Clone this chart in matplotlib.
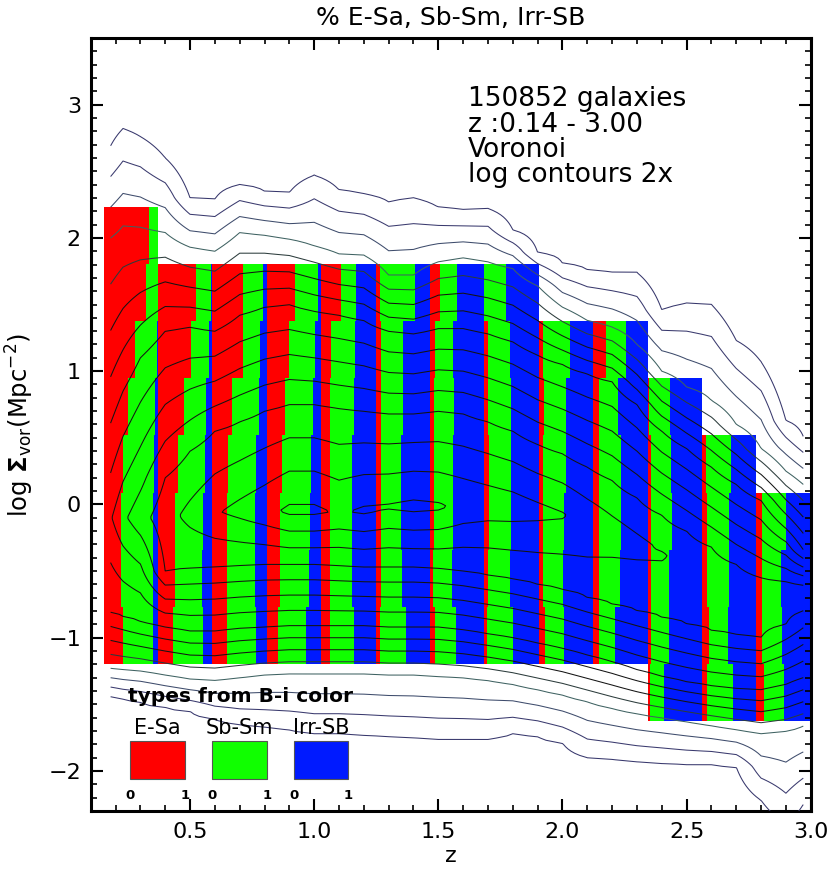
import matplotlib.pyplot as plt
import numpy as np

plt.rcParams['font.family'] = ['DejaVu Sans']
plt.rcParams['mathtext.fontset'] = 'dejavusans'

# column edges in z and row edges in log Sigma for the type-fraction blocks
z_edges = [0.152, 0.371, 0.590, 0.809, 1.028, 1.247, 1.466, 1.686, 1.905,
           2.124, 2.343, 2.562, 2.781, 3.0]
s_edges = [-1.625, -1.197, -0.768, -0.340, 0.089, 0.518, 0.946, 1.375, 1.803, 2.232]

# first / last filled row of each column
row_lo = [1, 1, 1, 1, 1, 1, 1, 1, 1, 1, 0, 0, 0]
row_hi = [8, 7, 7, 7, 7, 7, 7, 7, 6, 6, 5, 4, 3]

# fraction of E-Sa (red) and Sb-Sm (green) per row, bottom to top; Irr-SB is the rest
frac_esa = [
    [0.35, 0.32, 0.32, 0.35, 0.44, 0.57, 0.785, 0.83],
    [0.28, 0.31, 0.31, 0.36, 0.48, 0.61, 0.705],
    [0.26, 0.26, 0.26, 0.28, 0.36, 0.56, 0.56],
    [0.21, 0.25, 0.25, 0.28, 0.34, 0.41, 0.52],
    [0.16, 0.16, 0.16, 0.16, 0.17, 0.185, 0.37],
    [0.09, 0.10, 0.10, 0.10, 0.10, 0.10, 0.08],
    [0.09, 0.06, 0.07, 0.07, 0.07, 0.10, 0.18],
    [0.055, 0.07, 0.08, 0.08, 0.07, 0.06, 0.0],
    [0.11, 0.07, 0.07, 0.08, 0.09, 0.08],
    [0.10, 0.10, 0.10, 0.10, 0.10, 0.23],
    [0.04, 0.055, 0.055, 0.07, 0.07, 0.03],
    [0.085, 0.12, 0.10, 0.10, 0.07],
    [0.135, 0.10, 0.10, 0.10],
]
frac_sbsm = [
    [0.56, 0.59, 0.59, 0.57, 0.50, 0.41, 0.215, 0.17],
    [0.55, 0.50, 0.515, 0.50, 0.41, 0.32, 0.27],
    [0.54, 0.53, 0.53, 0.52, 0.49, 0.32, 0.37],
    [0.52, 0.53, 0.55, 0.53, 0.51, 0.48, 0.42],
    [0.44, 0.40, 0.40, 0.40, 0.43, 0.44, 0.28],
    [0.47, 0.38, 0.36, 0.36, 0.41, 0.41, 0.64],
    [0.39, 0.34, 0.35, 0.35, 0.37, 0.33, 0.31],
    [0.46, 0.39, 0.41, 0.41, 0.42, 0.41, 0.40],
    [0.35, 0.38, 0.39, 0.41, 0.40, 0.50],
    [0.30, 0.39, 0.41, 0.41, 0.36, 0.38],
    [0.26, 0.34, 0.34, 0.37, 0.36, 0.39],
    [0.48, 0.35, 0.40, 0.40, 0.46],
    [0.37, 0.37, 0.36, 0.45],
]

# galaxy density contours (log2 levels): crossing positions read per z
z_ctr = [0.18, 0.23, 0.3, 0.4, 0.5, 0.6, 0.7, 0.8, 0.9, 1.0, 1.1, 1.2, 1.3, 1.4, 1.5, 1.6,
         1.7, 1.8, 1.9, 2.0, 2.1, 2.2, 2.3, 2.4, 2.5, 2.6, 2.7, 2.8, 2.9, 2.97]
up1 = [2.69, 2.82, 2.76, 2.60, 2.30, 2.29, 2.40, 2.35, 2.34, 2.47, 2.36, 2.33, 2.27, 2.30, 2.23,
       2.21, 2.22, 2.06, 1.89, 1.81, 1.76, 1.74, 1.74, 1.46, 1.51, 1.50, 1.23, 1.07, 0.63, 0.51]
up4 = [2.00, 2.09, 2.08, 2.04, 1.93, 1.90, 2.04, 2.02, 1.99, 1.94, 1.88, 1.87, 1.72, 1.72, 1.82,
       1.85, 1.82, 1.77, 1.64, 1.48, 1.38, 1.33, 1.20, 1.00, 0.88, 0.78, 0.60, 0.42, 0.25, 0.15]
up8 = [0.61, 0.85, 1.10, 1.30, 1.33, 1.30, 1.42, 1.48, 1.50, 1.45, 1.42, 1.38, 1.30, 1.28, 1.32,
       1.32, 1.28, 1.22, 1.12, 1.05, 0.98, 0.92, 0.75, 0.55, 0.42, 0.28, 0.15, 0.03, -0.18, -0.34]
up12 = [np.nan, np.nan, np.nan, 0.20, 0.40, 0.55, 0.62, 0.70, 0.75, 0.75, 0.72, 0.70, 0.68,
        0.68, 0.70, 0.68, 0.62, 0.55, 0.45, 0.38, 0.28, 0.18, 0.05, -0.08, -0.20, -0.32, -0.45,
        -0.55, -0.58, -0.60]
peak_s = [-0.10, -0.10, -0.10, -0.10, -0.08, -0.06, -0.05, -0.05, -0.05, -0.05, -0.06, -0.05,
          -0.02, -0.02, -0.02, 0.0, 0.0, -0.02, -0.05, -0.08, -0.15, -0.22, -0.30, -0.38, -0.45,
          -0.55, -0.62, -0.70, -0.72, -0.72]
peak_lev = [9.9, 10.8, 11.6, 12.6, 13.3, 13.9, 14.3, 14.7, 15.2, 15.2, 14.9, 15.15, 15.1, 15.25,
            15.15, 14.8, 14.6, 14.5, 14.3, 14.1, 13.8, 13.5, 13.3, 13.1, 12.9, 12.7, 12.6, 12.8,
            12.5, 12.3]
lo12 = [np.nan, np.nan, np.nan, -0.50, -0.48, -0.47, -0.46, -0.45, -0.45, -0.45, -0.46, -0.47,
        -0.47, -0.47, -0.48, -0.50, -0.53, -0.56, -0.60, -0.64, -0.70, -0.75, -0.80, -0.85,
        -0.90, -0.95, -0.98, -1.00, -0.90, -0.80]
lo8 = [-0.81, -0.84, -0.88, -0.92, -0.95, -0.95, -0.93, -0.92, -0.91, -0.91, -0.91, -0.91, -0.92,
       -0.92, -0.92, -0.94, -0.97, -1.00, -1.04, -1.08, -1.13, -1.18, -1.24, -1.29, -1.33, -1.36,
       -1.38, -1.39, -1.35, -1.30]
lo4 = [-1.23, -1.24, -1.25, -1.28, -1.31, -1.32, -1.30, -1.28, -1.27, -1.27, -1.27, -1.27, -1.28,
       -1.28, -1.29, -1.30, -1.32, -1.35, -1.39, -1.43, -1.48, -1.53, -1.57, -1.60, -1.63, -1.66,
       -1.69, -1.72, -1.70, -1.66]
lo1 = [-1.44, -1.46, -1.48, -1.52, -1.55, -1.61, -1.65, -1.67, -1.69, -1.72, -1.72, -1.73, -1.74,
       -1.75, -1.76, -1.76, -1.76, -1.72, -1.74, -1.79, -1.90, -1.91, -1.93, -1.94, -1.95, -1.95,
       -1.97, -2.22, -2.40, -2.25]

red, green, blue = '#ff0000', '#10ff00', '#001aff'

fig = plt.figure(figsize=(8.3, 8.8), dpi=100)
ax = fig.add_axes([0.1093, 0.0784, 0.8675, 0.8785])

# type fraction blocks
for i in range(len(z_edges) - 1):
    w = z_edges[i + 1] - z_edges[i]
    rows = np.arange(row_lo[i], row_hi[i] + 1)
    bottoms = np.array(s_edges)[rows]
    heights = np.array(s_edges)[rows + 1] - bottoms
    fr = np.array(frac_esa[i])
    fg = np.array(frac_sbsm[i])
    fb = 1 - fr - fg
    left = z_edges[i]
    ax.barh(bottoms, fr * w, height=heights, left=left, align='edge', color=red, lw=0)
    ax.barh(bottoms, fg * w, height=heights, left=left + fr * w, align='edge', color=green, lw=0)
    ax.barh(bottoms, fb * w, height=heights, left=left + (fr + fg) * w, align='edge',
            color=blue, lw=0)

# contour field rebuilt from the crossing positions
s_grid = np.linspace(-2.6, 3.9, 400)
field = np.empty((len(s_grid), len(z_ctr)))
for j in range(len(z_ctr)):
    ks = np.array([lo1[j] - 1.0, lo1[j], lo4[j], lo8[j], lo12[j], peak_s[j],
                   up12[j], up8[j], up4[j], up1[j], up1[j] + 1.0])
    kv = np.array([-2, 1, 4, 8, 12, peak_lev[j], 12, 8, 4, 1, -2])
    keep = ~np.isnan(ks)
    field[:, j] = np.interp(s_grid, ks[keep], kv[keep])

levels = np.arange(1, 16)
lcolors = ['#37376c', '#3a3a6e', '#3e4c6c', '#3f6262', '#2c3c3c'] + ['#141414'] * 10
ax.contour(z_ctr, s_grid, field, levels=levels, colors=lcolors, linewidths=0.75, zorder=3)

ax.set_xlim(0.1, 3.0)
ax.set_ylim(-2.3, 3.5)
ax.set_xticks([0.5, 1.0, 1.5, 2.0, 2.5, 3.0])
ax.set_xticks(np.arange(0.1, 3.01, 0.1), minor=True)
ax.set_yticks([-2, -1, 0, 1, 2, 3])
ax.set_yticks(np.arange(-2.3, 3.51, 0.1), minor=True)
ax.tick_params(which='both', direction='in', top=True, right=True, labelsize=16)
ax.tick_params(which='major', length=8.6, width=1.5)
ax.tick_params(which='minor', length=4.3, width=1.2)
ax.tick_params(axis='x', pad=8)
ax.tick_params(axis='y', pad=7)
for sp in ax.spines.values():
    sp.set_linewidth(2.2)

ax.set_xlabel('z', fontsize=16)
ax.xaxis.set_label_coords(0.5, -0.045)
ax.set_ylabel(r'log $\mathbf{\Sigma}_{\mathrm{vor}}$(Mpc$^{-2}$)', fontsize=17.5)
ax.yaxis.set_label_coords(-0.076, 0.5)

fig.text(0.543, 0.9716, '% E-Sa, Sb-Sm, Irr-SB', ha='center', va='baseline', fontsize=18)

info = ['150852 galaxies', 'z :0.14 - 3.00', 'Voronoi', 'log contours 2x']
info_y = [0.9114, 0.8787, 0.8459, 0.8131]
for t, yy in zip(info, info_y):
    ax.text(0.524, yy, t, transform=ax.transAxes, fontsize=19, va='baseline', zorder=5)

# colour key
ax.text(0.052, 0.148, 'types from B-i color', transform=ax.transAxes, fontsize=14.5,
        fontweight='bold', va='center', zorder=5)
key_names = ['E-Sa', 'Sb-Sm', 'Irr-SB']
key_cols = [red, green, blue]
key_x = [0.055, 0.169, 0.282]
for name, c, x0 in zip(key_names, key_cols, key_x):
    ax.add_patch(plt.Rectangle((x0, 0.0417), 0.0755, 0.0486, transform=ax.transAxes,
                               facecolor=c, edgecolor='#555555', lw=0.8, zorder=5))
    ax.text(x0 + 0.0378, 0.108, name, transform=ax.transAxes, fontsize=15,
            ha='center', va='center', zorder=5)
    ax.text(x0, 0.020, '0', transform=ax.transAxes, fontsize=9.5, fontweight='bold',
            ha='center', va='center', zorder=5)
    ax.text(x0 + 0.0755, 0.020, '1', transform=ax.transAxes, fontsize=9.5, fontweight='bold',
            ha='center', va='center', zorder=5)

fig.savefig('out.png', dpi=100)
